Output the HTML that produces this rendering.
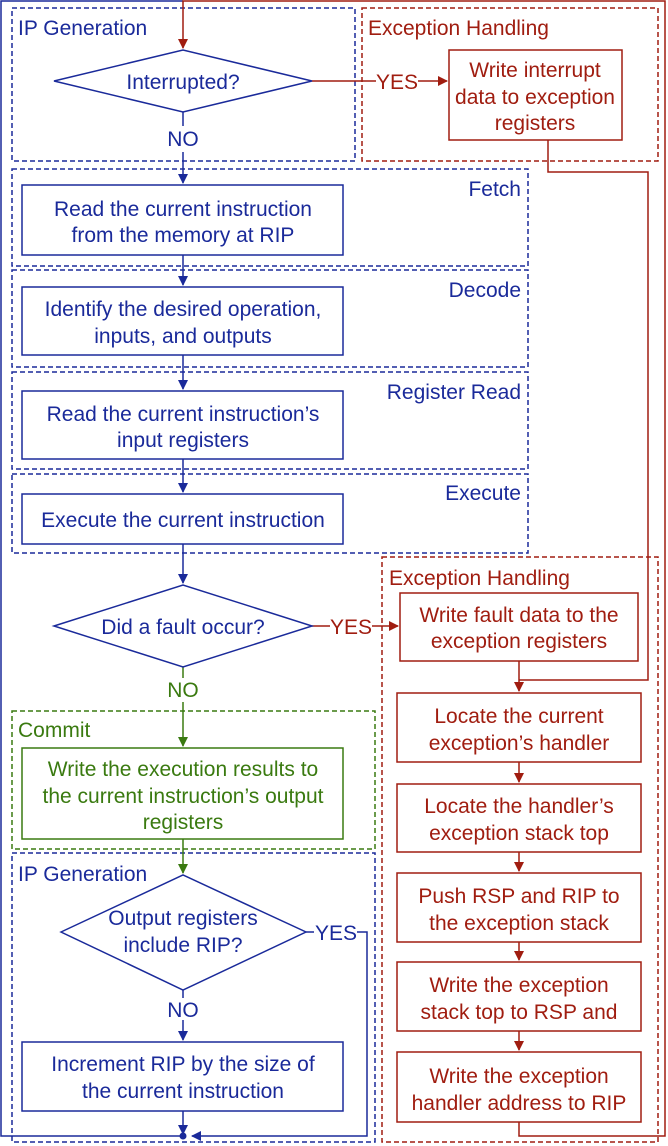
<!DOCTYPE html>
<html><head><meta charset="utf-8"><style>
html,body{margin:0;padding:0;background:#fff;}
svg{display:block;font-family:"Liberation Sans",sans-serif;font-size:21px;}
</style></head><body>
<svg width="668" height="1146" viewBox="0 0 668 1146" xmlns="http://www.w3.org/2000/svg">
<defs>
<marker id="ab" markerWidth="10" markerHeight="10" refX="9" refY="5" orient="auto" markerUnits="userSpaceOnUse"><path d="M0,0 L10,5 L0,10 z" fill="#1a2a9a"/></marker>
<marker id="ar" markerWidth="10" markerHeight="10" refX="9" refY="5" orient="auto" markerUnits="userSpaceOnUse"><path d="M0,0 L10,5 L0,10 z" fill="#a01d10"/></marker>
<marker id="ag" markerWidth="10" markerHeight="10" refX="9" refY="5" orient="auto" markerUnits="userSpaceOnUse"><path d="M0,0 L10,5 L0,10 z" fill="#3a7a10"/></marker>
</defs>
<g fill="none" stroke-width="1.5" stroke-dasharray="5,3">
<rect x="12" y="8" width="343" height="153" stroke="#1a2a9a"/>
<rect x="362" y="8" width="296" height="153" stroke="#a01d10"/>
<rect x="12" y="169" width="516" height="97" stroke="#1a2a9a"/>
<rect x="12" y="270" width="516" height="97" stroke="#1a2a9a"/>
<rect x="12" y="372" width="516" height="97" stroke="#1a2a9a"/>
<rect x="12" y="474" width="516" height="79" stroke="#1a2a9a"/>
<rect x="382" y="557" width="276" height="585" stroke="#a01d10"/>
<rect x="12" y="711" width="363" height="138" stroke="#3a7a10"/>
<rect x="12" y="853" width="363" height="289" stroke="#1a2a9a"/>
</g>
<g fill="none" stroke-width="1.5">
<path d="M183,1136 L1,1136 L1,1 L183,1" stroke="#1a2a9a"/>
<path d="M519,1122 L519,1136 L665,1136 L665,1 L183,1 L183,48" stroke="#a01d10" marker-end="url(#ar)"/>
<path d="M548,140 L548,172 L648,172 L648,680 L519,680" stroke="#a01d10"/>
<path d="M519,661 L519,691" stroke="#a01d10" marker-end="url(#ar)"/>
<path d="M312,81 L376,81 M418,81 L447,81" stroke="#a01d10" marker-end="url(#ar)"/>
<path d="M312,626 L330,626 M372,626 L398,626" stroke="#a01d10" marker-end="url(#ar)"/>
<path d="M519,762 L519,782" stroke="#a01d10" marker-end="url(#ar)"/>
<path d="M519,852 L519,871" stroke="#a01d10" marker-end="url(#ar)"/>
<path d="M519,942 L519,960" stroke="#a01d10" marker-end="url(#ar)"/>
<path d="M519,1031 L519,1050" stroke="#a01d10" marker-end="url(#ar)"/>
<path d="M183,112 L183,126" stroke="#1a2a9a"/>
<path d="M183,152 L183,183" stroke="#1a2a9a" marker-end="url(#ab)"/>
<path d="M183,255 L183,285" stroke="#1a2a9a" marker-end="url(#ab)"/>
<path d="M183,355 L183,389" stroke="#1a2a9a" marker-end="url(#ab)"/>
<path d="M183,459 L183,492" stroke="#1a2a9a" marker-end="url(#ab)"/>
<path d="M183,544 L183,583" stroke="#1a2a9a" marker-end="url(#ab)"/>
<path d="M183,667 L183,678" stroke="#3a7a10"/>
<path d="M183,702 L183,746" stroke="#3a7a10" marker-end="url(#ag)"/>
<path d="M183,839 L183,873" stroke="#3a7a10" marker-end="url(#ag)"/>
<path d="M183,990 L183,998" stroke="#1a2a9a"/>
<path d="M183,1020 L183,1040" stroke="#1a2a9a" marker-end="url(#ab)"/>
<path d="M183,1111 L183,1134" stroke="#1a2a9a" marker-end="url(#ab)"/>
<path d="M306,932 L314,932 M357,932 L367,932 L367,1136 L192,1136" stroke="#1a2a9a" marker-end="url(#ab)"/>
</g>
<circle cx="183" cy="1136" r="3.5" fill="#1a2a9a"/>
<g fill="#fff" stroke-width="1.5">
<polygon points="54,81 183,50 312,81 183,112" stroke="#1a2a9a"/>
<rect x="449" y="50" width="173" height="90" stroke="#a01d10"/>
<rect x="22" y="185" width="321" height="70" stroke="#1a2a9a"/>
<rect x="22" y="287" width="321" height="68" stroke="#1a2a9a"/>
<rect x="22" y="391" width="321" height="68" stroke="#1a2a9a"/>
<rect x="22" y="494" width="321" height="50" stroke="#1a2a9a"/>
<polygon points="54,626 183,585 312,626 183,667" stroke="#1a2a9a"/>
<rect x="400" y="593" width="238" height="68" stroke="#a01d10"/>
<rect x="397" y="693" width="244" height="69" stroke="#a01d10"/>
<rect x="397" y="784" width="244" height="68" stroke="#a01d10"/>
<rect x="397" y="873" width="244" height="69" stroke="#a01d10"/>
<rect x="397" y="962" width="244" height="69" stroke="#a01d10"/>
<rect x="397" y="1052" width="244" height="70" stroke="#a01d10"/>
<rect x="22" y="748" width="321" height="91" stroke="#3a7a10"/>
<polygon points="61,932 183,875 306,932 183,990" stroke="#1a2a9a"/>
<rect x="22" y="1042" width="321" height="69" stroke="#1a2a9a"/>
</g>
<g fill="#1a2a9a">
<text x="18" y="35">IP Generation</text>
<text x="18" y="881">IP Generation</text>
<text x="521" y="196" text-anchor="end">Fetch</text>
<text x="521" y="297" text-anchor="end">Decode</text>
<text x="521" y="399" text-anchor="end">Register Read</text>
<text x="521" y="500" text-anchor="end">Execute</text>
<g text-anchor="middle">
<text x="183" y="89">Interrupted?</text>
<text x="183" y="146">NO</text>
<text x="183" y="216">Read the current instruction</text>
<text x="183" y="242">from the memory at RIP</text>
<text x="183" y="316">Identify the desired operation,</text>
<text x="183" y="343">inputs, and outputs</text>
<text x="183" y="421">Read the current instruction’s</text>
<text x="183" y="447">input registers</text>
<text x="183" y="527">Execute the current instruction</text>
<text x="183" y="634">Did a fault occur?</text>
<text x="183" y="925">Output registers</text>
<text x="183" y="952">include RIP?</text>
<text x="183" y="1017">NO</text>
<text x="336" y="940">YES</text>
<text x="183" y="1071">Increment RIP by the size of</text>
<text x="183" y="1098">the current instruction</text>
</g>
</g>
<g fill="#a01d10">
<text x="368" y="35">Exception Handling</text>
<text x="389" y="585">Exception Handling</text>
<g text-anchor="middle">
<text x="397" y="89">YES</text>
<text x="351" y="634">YES</text>
<text x="535" y="77">Write interrupt</text>
<text x="535" y="104">data to exception</text>
<text x="535" y="130">registers</text>
<text x="519" y="622">Write fault data to the</text>
<text x="519" y="648">exception registers</text>
<text x="519" y="723">Locate the current</text>
<text x="519" y="750">exception’s handler</text>
<text x="519" y="813">Locate the handler’s</text>
<text x="519" y="840">exception stack top</text>
<text x="519" y="903">Push RSP and RIP to</text>
<text x="519" y="930">the exception stack</text>
<text x="519" y="992">Write the exception</text>
<text x="519" y="1019">stack top to RSP and</text>
<text x="519" y="1083">Write the exception</text>
<text x="519" y="1110">handler address to RIP</text>
</g>
</g>
<g fill="#3a7a10">
<text x="18" y="737">Commit</text>
<g text-anchor="middle">
<text x="183" y="697">NO</text>
<text x="183" y="776">Write the execution results to</text>
<text x="183" y="803">the current instruction’s output</text>
<text x="183" y="829">registers</text>
</g>
</g>
</svg>
</body></html>
